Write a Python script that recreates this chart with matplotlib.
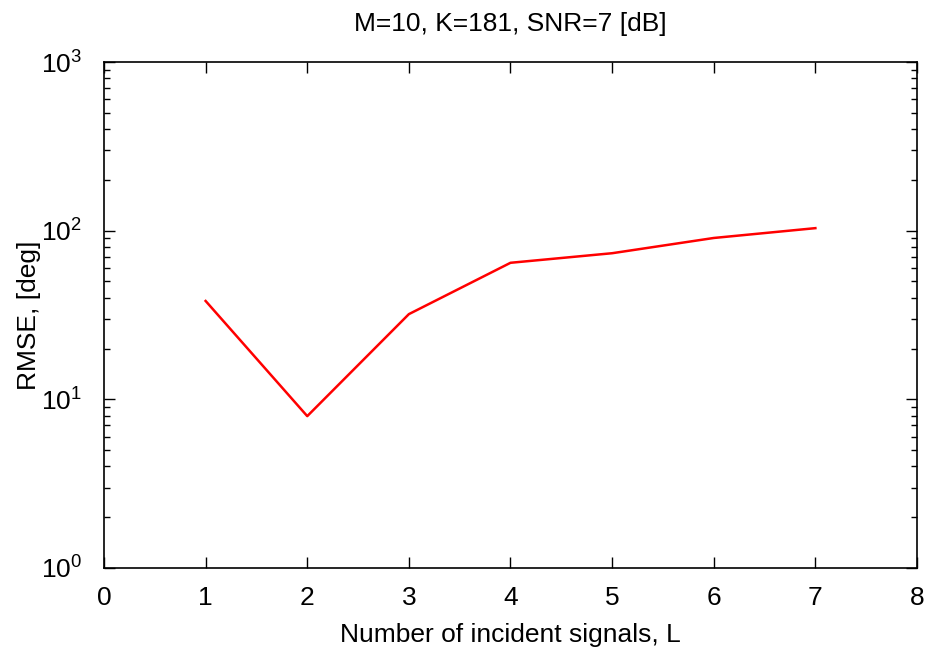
import numpy as np
import matplotlib.pyplot as plt
from matplotlib.ticker import LogLocator, NullFormatter

plt.rcParams['font.family'] = ['Liberation Sans', 'DejaVu Sans']
plt.rcParams['mathtext.fontset'] = 'custom'
plt.rcParams['mathtext.rm'] = 'Liberation Sans'

L = [1, 2, 3, 4, 5, 6, 7]
rmse = [38.3, 7.95, 32.0, 64.5, 73.5, 90.5, 103.5]

fig = plt.figure(figsize=(9.29, 6.57), dpi=100)
ax = fig.add_axes([104/929, 1-568/657, (917-104)/929, (568-62)/657])
ax.plot(L, rmse, color='red', lw=1.8)
ax.set_yscale('log')
ax.set_xlim(0, 8)
ax.set_ylim(1, 1000)
ax.set_xticks(range(0, 9))
ax.yaxis.set_major_locator(LogLocator(base=10, numticks=10))
ax.yaxis.set_minor_locator(LogLocator(base=10, subs=np.arange(2, 10), numticks=10))
ax.yaxis.set_minor_formatter(NullFormatter())
ax.tick_params(which='both', direction='in', top=True, right=True, labelsize=19)
ax.tick_params(axis='x', pad=13)
ax.tick_params(axis='y', pad=16)
ax.tick_params(which='major', length=8, width=1)
ax.tick_params(which='minor', length=4, width=1)
ax.tick_params(axis='x', which='minor', top=False, bottom=False)
for s in ax.spines.values():
    s.set_linewidth(1.2)
ax.set_xlabel('Number of incident signals, L', fontsize=19, labelpad=9)
ax.set_ylabel('RMSE, [deg]', fontsize=19, labelpad=0)
ax.set_title('M=10, K=181, SNR=7 [dB]', fontsize=19, pad=22)
fig.savefig('out.png', dpi=100)
